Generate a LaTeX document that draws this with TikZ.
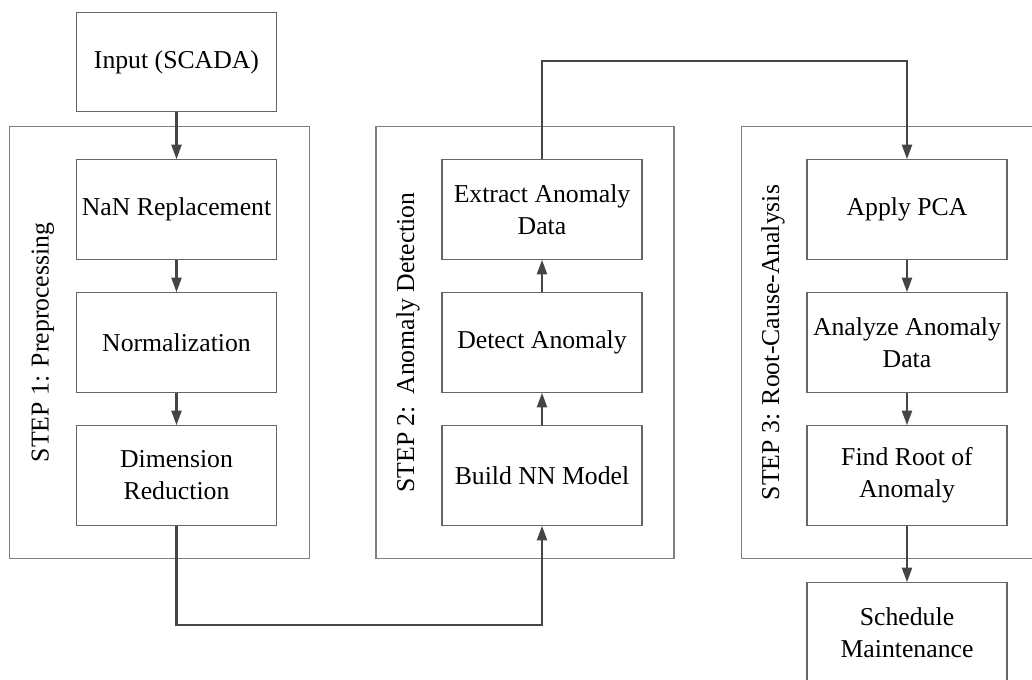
\documentclass[tikz,border=0pt]{standalone}
\usepackage{fontspec}
\setmainfont{Liberation Serif}
\usetikzlibrary{arrows.meta}
\definecolor{framegray}{HTML}{808080}
\definecolor{boxgray}{HTML}{666666}
\definecolor{flowgray}{HTML}{454545}
\begin{document}
\begin{tikzpicture}[x=0.75pt,y=-0.75pt,
  every node/.style={font=\fontsize{19.3}{24}\selectfont},
  stepbox/.style={draw=boxgray,line width=0.9pt,minimum width=150pt,minimum height=74.5pt,
    inner sep=0pt,align=center,fill=white},
  frame/.style={draw=framegray,line width=0.9pt,minimum height=323.5pt,inner sep=0pt},
  steplabel/.style={rotate=90,anchor=center,inner sep=0pt},
  flow/.style={draw=flowgray,line width=1.8pt,-{Triangle[length=11pt,width=7.5pt]}}]
\useasboundingbox (0,0) rectangle (1032,679);
\clip (0,0) rectangle (1032,679);

% stage frames
\node[frame,minimum width=224.5pt] (f1) at (159.5,342.5) {};
\node[frame,minimum width=223.5pt] (f2) at (525,342.5) {};
\node[frame,minimum width=224pt]   (f3) at (890.5,342.5) {};

\node[steplabel] (l1) at (43,342.5) {STEP 1: Preprocessing};
\node[steplabel] (l2) at (408,342.5) {STEP 2:\hspace{0.45em}Anomaly Detection};
\node[steplabel] (l3) at (773,342.5) {STEP 3: Root-Cause-Analysis};

% process boxes
\node[stepbox] (in)   at (176.5,62)    {Input (SCADA)};
\node[stepbox] (nan)  at (176.5,209.5) {NaN Replacement};
\node[stepbox] (norm) at (176.5,342.5) {Normalization};
\node[stepbox] (dim)  at (176.5,475.5) {Dimension\\Reduction};

\node[stepbox] (ext)  at (542,209.5) {Extract Anomaly\\Data};
\node[stepbox] (det)  at (542,342.5) {Detect Anomaly};
\node[stepbox] (nn)   at (542,475.5) {Build NN Model};

\node[stepbox] (pca)  at (907,209.5) {Apply PCA};
\node[stepbox] (ana)  at (907,342.5) {Analyze Anomaly\\Data};
\node[stepbox] (root) at (907,475.5) {Find Root of\\Anomaly};
\node[stepbox] (sch)  at (907,632.5) {Schedule\\Maintenance};

% connectors
\coordinate (lowA) at (176.5,625);
\coordinate (lowB) at (542,625);
\coordinate (topA) at (542,61);
\coordinate (topB) at (907,61);

\draw[flow] (in) -- (nan);
\draw[flow] (nan) -- (norm);
\draw[flow] (norm) -- (dim);
\draw[flow] (dim.south) -- (lowA) -- (lowB) -- (nn.south);
\draw[flow] (nn) -- (det);
\draw[flow] (det) -- (ext);
\draw[flow] (ext.north) -- (topA) -- (topB) -- (pca.north);
\draw[flow] (pca) -- (ana);
\draw[flow] (ana) -- (root);
\draw[flow] (root) -- (sch);
\end{tikzpicture}
\end{document}
